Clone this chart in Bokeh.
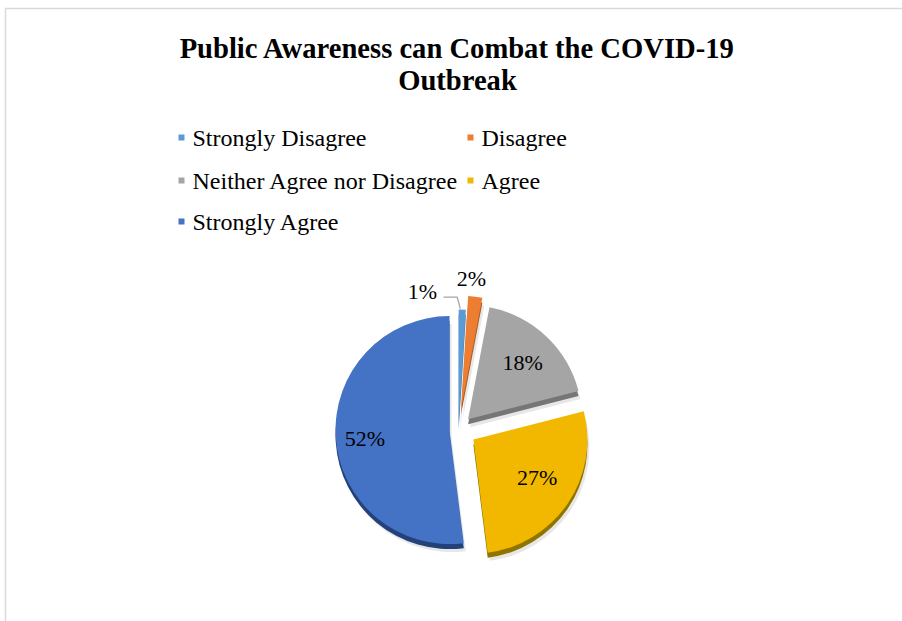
import math
from bokeh.plotting import figure
from bokeh.models import Range1d
from bokeh.core.properties import value
from bokeh.embed import file_html
from bokeh.resources import INLINE

# ---- data ----
title_lines = ["Public Awareness can Combat the COVID-19", "Outbreak"]
categories = ["Strongly Disagree", "Disagree", "Neither Agree nor Disagree", "Agree", "Strongly Agree"]
percents = [1, 2, 18, 27, 52]
label_texts = [f"{v}%" for v in percents]

# ---- style ----
face_colors = ["#5B9BD5", "#ED7D31", "#A5A5A5", "#F2B800", "#4472C4"]
rim_colors = ["#3F6F9E", "#A85620", "#767676", "#8F7400", "#24427A"]
explode = [6, 20, 14, 18, 9]
label_angle_shift = [-16.4, -2.3, 0.5, -3.0, -2.0]
label_dist = [143, 152, 93, 92, 94]

W, H = 902, 621
FONT = "Liberation Serif"


def Y(py):
    return H - py


CX, CY, R = 458, Y(429), 114
RIM = 5

p = figure(width=W, height=H, output_backend="svg", toolbar_location=None,
           x_range=Range1d(0, W), y_range=Range1d(0, H), min_border=0)
p.axis.visible = False
p.grid.visible = False
p.outline_line_color = None
p.background_fill_color = "white"
p.border_fill_color = "white"

# chart frame
p.line([5, 5, W + 5], [Y(H + 5), Y(8), Y(8)], line_color="#D9D9D9", line_width=1.5)

total = sum(percents)
geo = []
cum = 0.0
for i, v in enumerate(percents):
    e0 = cum / total * 360.0
    cum += v
    e1 = cum / total * 360.0
    mid = (e0 + e1) / 2.0
    ox = math.sin(math.radians(mid)) * explode[i]
    oy = math.cos(math.radians(mid)) * explode[i]
    geo.append((e0, e1, mid, CX + ox, CY + oy))

# soft shadow
for i, (e0, e1, mid, x, y) in enumerate(geo):
    p.wedge(x=x + 2, y=y - 8, radius=R, start_angle=math.radians(90 - e1),
            end_angle=math.radians(90 - e0), fill_color="#BBBBBB", fill_alpha=0.35,
            line_color=None)
# 3D rims
for i, (e0, e1, mid, x, y) in enumerate(geo):
    p.wedge(x=x, y=y - RIM, radius=R, start_angle=math.radians(90 - e1),
            end_angle=math.radians(90 - e0), fill_color=rim_colors[i], line_color=None)
# faces
for i, (e0, e1, mid, x, y) in enumerate(geo):
    p.wedge(x=x, y=y, radius=R, start_angle=math.radians(90 - e1),
            end_angle=math.radians(90 - e0), fill_color=face_colors[i], line_color=None)

# data labels
lx, ly = [], []
for i, (e0, e1, mid, x, y) in enumerate(geo):
    a = math.radians(mid + label_angle_shift[i])
    lx.append(CX + math.sin(a) * label_dist[i])
    ly.append(CY + math.cos(a) * label_dist[i])
p.text(x=lx, y=ly, text=label_texts, text_font=value(FONT), text_font_size="22px",
       text_align="center", text_baseline="middle", text_color="#000000")

# leader line for the smallest slice
e0, e1, mid, x, y = geo[0]
tipx = x + math.sin(math.radians(mid)) * R
tipy = y + math.cos(math.radians(mid)) * R
sx, sy = lx[0] + 21, ly[0] - 6
p.line([sx, tipx - 5, tipx - 2], [sy, sy, tipy + 1], line_color="#A6A6A6", line_width=1.3)

# title
p.text(x=[457, 457], y=[Y(48), Y(80)], text=title_lines, text_font=value(FONT),
       text_font_size="28.6px", text_font_style="bold", text_align="center",
       text_baseline="middle", text_color="#000000")

# legend
leg_mx = [181, 470, 181, 470, 181]
leg_my = [137, 137, 180, 180, 221]
p.scatter(x=leg_mx, y=[Y(v) for v in leg_my], marker="square", size=6,
          fill_color=face_colors, line_color=None)
p.text(x=[m + 11 for m in leg_mx], y=[Y(v) for v in leg_my], text=categories,
       text_font=value(FONT), text_font_size="24px", text_align="left",
       text_baseline="middle", text_color="#000000")

open("out.html", "w").write(file_html(p, INLINE))
